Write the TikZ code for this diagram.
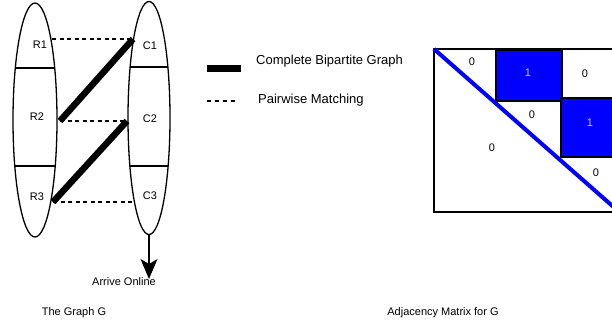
\documentclass[tikz,border=0pt]{standalone}
\usepackage{fontspec}
\setmainfont{Liberation Sans}
\usetikzlibrary{arrows.meta,shapes.geometric}
\definecolor{paleblue}{RGB}{200,200,255}
\tikzset{
  side/.style={shape=ellipse, draw=black, line width=1.3pt, minimum width=44pt, minimum height=234pt},
  lbl/.style={font=\fontsize{11}{13}\selectfont, inner sep=0pt},
  keytext/.style={font=\fontsize{13}{15}\selectfont, inner sep=0pt, anchor=west},
  bip/.style={line width=6.5pt, draw=black},
  match/.style={line width=1.3pt, draw=black, dash pattern=on 4pt off 3.5pt},
  cell/.style={fill=blue, draw=black, line width=1.5pt}
}
\begin{document}
\begin{tikzpicture}[x=1pt, y=-1pt]
\clip (0,0) rectangle (612,327);
% the two sides of G
\node[side] (L) at (35,120) {};
\node[side, minimum width=42pt, minimum height=233pt] (R) at (149,118) {};
\begin{scope}
\clip (35,120) ellipse (22 and 117);
\draw[line width=1.3pt] (0,68) -- (100,68) (0,166) -- (100,166);
\end{scope}
\begin{scope}
\clip (149,118) ellipse (21 and 116.5);
\draw[line width=1.3pt] (100,67) -- (200,67) (100,166) -- (200,166);
\end{scope}
\node[lbl] (R1) at (40,45) {R1};
\node[lbl] (R2) at (37,117) {R2};
\node[lbl] (R3) at (37,197) {R3};
\node[lbl] (C1) at (150,46) {C1};
\node[lbl] (C2) at (150,119) {C2};
\node[lbl] (C3) at (150,196) {C3};
\coordinate (r1) at (52,39);
\coordinate (r2) at (60,121);
\coordinate (r3) at (53,202);
\coordinate (c1) at (133,39);
\coordinate (c2) at (127,121);
\coordinate (c3) at (133,202);
\path [match] (r1) edge (c1);
\path [match] (r2) edge (c2);
\path [match] (r3) edge (c3);
\path [bip] (r2) edge (c1);
\path [bip] (r3) edge (c2);
\coordinate (tip) at (149,279);
\draw[line width=1.3pt, -{Stealth[length=20pt, width=17pt, inset=5pt]}] (R.south) -- (tip);
\node[lbl] (online) at (124,282) {Arrive Online};
\node[lbl] (gcap) at (74,313) {The Graph G};
% key
\coordinate (k1) at (207,68);
\coordinate (k2) at (241,68);
\coordinate (k3) at (207,101);
\coordinate (k4) at (237,101);
\path [bip, line width=7pt] (k1) edge (k2);
\path [match, dash pattern=on 4pt off 4pt] (k3) edge (k4);
\node[keytext] (kbip) at (256,61) {Complete Bipartite Graph};
\node[keytext] (kmatch) at (258,100) {Pairwise Matching};
% adjacency matrix
\draw[line width=1.5pt] (434,49) rectangle (618,212);
\filldraw[cell] (496,50) rectangle (562,101);
\filldraw[cell] (561,98) rectangle (640,157);
\draw[blue, line width=4pt] (434,49) -- (617,210);
\node[lbl] (m11) at (472,62) {0};
\node[lbl, text=paleblue] (m12) at (528,73) {1};
\node[lbl] (m13) at (585,74) {0};
\node[lbl] (m22) at (532,115) {0};
\node[lbl, text=paleblue] (m23) at (590,123) {1};
\node[lbl] (m31) at (492,148) {0};
\node[lbl] (m33) at (596,173) {0};
\node[lbl] (mcap) at (443,313) {Adjacency Matrix for G};
\end{tikzpicture}
\end{document}
